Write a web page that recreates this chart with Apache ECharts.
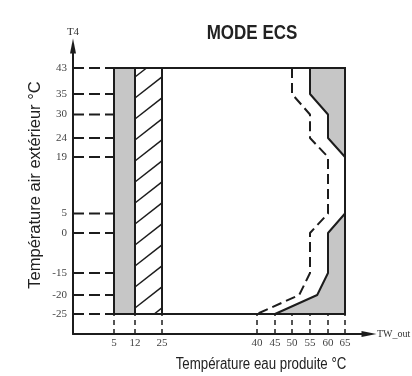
<!DOCTYPE html>
<html>
<head>
<meta charset="utf-8">
<title>MODE ECS</title>
<script src="https://cdn.jsdelivr.net/npm/echarts@6/dist/echarts.min.js"></script>
<style>
html, body { margin: 0; padding: 0; background: #fff; }
#chart { width: 412px; height: 376px; }
</style>
</head>
<body>
<div id="chart"></div>
<script>
// graduations
var xTicks = [5, 12, 25, 40, 45, 50, 55, 60, 65];
var yTicks = [43, 35, 30, 24, 19, 5, 0, -15, -20, -25];
// schéma pas à l'échelle : place de chaque graduation sur son axe
var xTickPos = [41, 62, 89, 184, 202, 219, 237, 255, 272];
var yTickPos = [266, 240, 219.5, 196, 177, 120.5, 101, 61, 39, 20];
// limite de fonctionnement (trait plein)
var limitT4 = [43, 35, 30, 24, 19, 5, 0, -15, -20, -25];
var limitTw = [55, 55, 60, 60, 65, 65, 60, 60, 57, 45];
// limite pointillée
var dashT4 = [43, 35, 30, 24, 19, 5, 0, -15, -20, -25];
var dashTw = [50, 50, 55, 55, 60, 60, 55, 55, 52, 40];
// zones
var grayZone = [5, 12];
var hatchZone = [12, 25];
var frameTw = [5, 65];
var frameT4 = [-25, 43];

var INK = '#1c1c1c';
var GRAY = '#c6c6c6';

// interpolation sur l'axe schématique
function place(v, ticks, pos) {
    var pts = ticks.map(function (t, i) { return [t, pos[i]]; })
        .sort(function (a, b) { return a[0] - b[0]; });
    for (var i = 0; i < pts.length - 1; i++) {
        if (v <= pts[i + 1][0]) {
            return pts[i][1] + (v - pts[i][0]) * (pts[i + 1][1] - pts[i][1]) / (pts[i + 1][0] - pts[i][0]);
        }
    }
    return pts[pts.length - 1][1];
}
function pt(tw, t4) {
    return [place(tw, xTicks, xTickPos), place(t4, yTicks, yTickPos)];
}
function label(v, ticks, pos) {
    for (var i = 0; i < pos.length; i++) {
        if (Math.abs(pos[i] - v) < 1e-6) return String(ticks[i]);
    }
    return '';
}

// zones grises, hachures, cadre
function renderZones(params, api) {
    var c = function (tw, t4) { return api.coord(pt(tw, t4)); };
    var lo = frameT4[0], hi = frameT4[1];
    var children = [];
    children.push({
        type: 'polygon',
        shape: { points: [c(grayZone[0], lo), c(grayZone[1], lo), c(grayZone[1], hi), c(grayZone[0], hi)] },
        style: { fill: GRAY }
    });
    var pts = limitTw.map(function (tw, i) { return c(tw, limitT4[i]); });
    pts.push(c(frameTw[1], lo));
    pts.push(c(frameTw[1], hi));
    children.push({ type: 'polygon', shape: { points: pts }, style: { fill: GRAY } });

    // hachures
    var a = c(hatchZone[0], lo), b = c(hatchZone[1], hi);
    var s = 0.78, gap = 21;
    for (var yl = a[1] - 6 + 3 * gap; yl > b[1]; yl -= gap) {
        var x1 = Math.max(a[0], a[0] + (yl - a[1]) / s);
        var x2 = Math.min(b[0], a[0] + (yl - b[1]) / s);
        if (x2 > x1) {
            children.push({
                type: 'line',
                shape: { x1: x1, y1: yl - s * (x1 - a[0]), x2: x2, y2: yl - s * (x2 - a[0]) },
                style: { stroke: INK, lineWidth: 1.5 }
            });
        }
    }
    // cadre
    children.push({
        type: 'polygon',
        shape: { points: [c(frameTw[0], lo), c(frameTw[1], lo), c(frameTw[1], hi), c(frameTw[0], hi)] },
        style: { fill: null, stroke: INK, lineWidth: 2 }
    });
    [hatchZone[0], hatchZone[1]].forEach(function (tw) {
        var p = c(tw, lo), q = c(tw, hi);
        children.push({
            type: 'line',
            shape: { x1: p[0], y1: p[1], x2: q[0], y2: q[1] },
            style: { stroke: INK, lineWidth: 2 }
        });
    });
    return { type: 'group', children: children };
}

// lignes de rappel pointillées
function renderGuides(params, api) {
    var children = [];
    yTicks.forEach(function (t4, i) {
        var p = api.coord([0, yTickPos[i]]), q = api.coord(pt(frameTw[0], t4));
        children.push({
            type: 'line',
            shape: { x1: p[0], y1: p[1], x2: q[0], y2: q[1] },
            style: { stroke: INK, lineWidth: 2, lineDash: [11, 5] }
        });
    });
    xTicks.forEach(function (tw, i) {
        var p = api.coord([xTickPos[i], 0]), q = api.coord(pt(tw, frameT4[0]));
        children.push({
            type: 'line',
            shape: { x1: p[0], y1: p[1], x2: q[0], y2: q[1] },
            style: { stroke: INK, lineWidth: 1.5, lineDash: [5, 4] }
        });
    });
    return { type: 'group', children: children };
}

var chart = echarts.init(document.getElementById('chart'));
var tickFont = { fontFamily: '"Liberation Serif", serif', fontSize: 11, color: '#444' };

chart.setOption({
    animation: false,
    grid: { left: 73, right: 43, top: 46, bottom: 42, outerBoundsMode: 'none', containLabel: false },
    xAxis: {
        type: 'value', min: 0, max: 296,
        name: 'TW_out', nameLocation: 'end', nameGap: 8,
        nameTextStyle: { fontFamily: '"Liberation Serif", serif', fontSize: 10, color: '#333' },
        axisLine: { show: true, symbol: ['none', 'triangle'], symbolSize: [6, 15], lineStyle: { color: INK, width: 2 } },
        axisTick: { show: false },
        splitLine: { show: false },
        axisLabel: Object.assign({
            customValues: xTickPos, margin: 4,
            formatter: function (v) { return label(v, xTicks, xTickPos); }
        }, tickFont)
    },
    yAxis: {
        type: 'value', min: 0, max: 288,
        name: 'T4', nameLocation: 'end', nameGap: 8,
        nameTextStyle: { fontFamily: '"Liberation Serif", serif', fontSize: 11, color: '#333' },
        axisLine: { show: true, symbol: ['none', 'triangle'], symbolSize: [6, 15], lineStyle: { color: INK, width: 2 } },
        axisTick: { show: false },
        splitLine: { show: false },
        axisLabel: Object.assign({
            customValues: yTickPos, margin: 6,
            formatter: function (v) { return label(v, yTicks, yTickPos); }
        }, tickFont)
    },
    graphic: [
        { type: 'text', x: 252, y: 33, scaleX: 0.81, style: { text: 'MODE ECS', align: 'center', verticalAlign: 'middle', font: 'bold 21px "Liberation Sans", sans-serif', fill: '#222' } },
        { type: 'text', x: 35, y: 185, rotation: Math.PI / 2, style: { text: 'Température air extérieur °C', align: 'center', verticalAlign: 'middle', font: '16.5px "Liberation Sans", sans-serif', fill: '#222' } },
        { type: 'text', x: 261, y: 365, scaleX: 0.83, style: { text: 'Température eau produite °C', align: 'center', verticalAlign: 'middle', font: '16px "Liberation Sans", sans-serif', fill: '#222' } }
    ],
    series: [
        { type: 'custom', name: 'zones', renderItem: renderZones, data: [[0, 0]], z: 1, silent: true },
        { type: 'custom', name: 'rappels', renderItem: renderGuides, data: [[0, 0]], z: 2, silent: true },
        {
            type: 'line', name: 'limite', z: 3, symbol: 'none',
            lineStyle: { color: INK, width: 2 },
            data: limitTw.map(function (tw, i) { return pt(tw, limitT4[i]); })
        },
        {
            type: 'line', name: 'limite pointillée', z: 3, symbol: 'none',
            lineStyle: { color: INK, width: 2, type: [10, 5] },
            data: dashTw.map(function (tw, i) { return pt(tw, dashT4[i]); })
        }
    ]
});
</script>
</body>
</html>
